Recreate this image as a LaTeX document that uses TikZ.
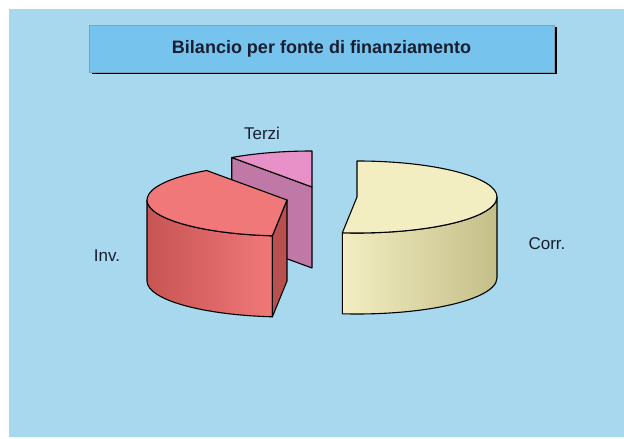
\documentclass[tikz,border=0pt]{standalone}
\usepackage{fontspec}
\setmainfont{Liberation Sans}
\usetikzlibrary{shadows}

\definecolor{bgblue}{RGB}{168,216,238}
\definecolor{boxblue}{RGB}{118,196,238}
\definecolor{boxedge}{RGB}{130,160,180}
\definecolor{txtnavy}{RGB}{24,30,48}
\definecolor{redtop}{RGB}{240,120,120}
\definecolor{redrim}{RGB}{200,84,84}
\definecolor{redside}{RGB}{184,80,80}
\definecolor{pinktop}{RGB}{232,144,200}
\definecolor{pinkside}{RGB}{192,120,166}
\definecolor{yeltop}{RGB}{243,238,194}
\definecolor{yelrim}{RGB}{196,190,136}

\begin{document}
\begin{tikzpicture}[x=1pt,y=1pt,
  slice/.style={draw=black,line width=1.1pt,line join=round},
  lbl/.style={text=txtnavy,font=\fontsize{17}{19}\selectfont},
  titlebox/.style={fill=boxblue,draw=boxedge,line width=0.8pt,
    minimum width=465pt,minimum height=47pt,inner sep=0pt,
    drop shadow={shadow xshift=2.5pt,shadow yshift=-2.5pt,fill=black,opacity=1}}]
\useasboundingbox (0,0) rectangle (624,439);
\fill[bgblue] (9,2) rectangle (624,430);

\node[titlebox,text=txtnavy,font=\fontsize{18}{20}\selectfont\bfseries] (title) at (321.5,390.5) {Bilancio per fonte di finanziamento};

% Terzi: 90 -> 125
\begin{scope}[shift={(312,252)}]
\filldraw[slice,fill=pinkside] (0,0) -- (125:140 and 36) -- ++(0,-81) -- (0,-81) -- cycle;
\filldraw[slice,fill=pinktop] (0,0) -- (90:140 and 36) arc[start angle=90,end angle=125,x radius=140,y radius=36] -- cycle;
\end{scope}

% Corr.: -96 -> 90
\begin{scope}[shift={(357,242)}]
\shadedraw[slice,left color=yeltop,right color=yelrim] (-96:140 and 36) arc[start angle=-96,end angle=0,x radius=140,y radius=36] -- ++(0,-81) arc[start angle=0,end angle=-96,x radius=140,y radius=36] -- cycle;
\filldraw[slice,fill=yeltop] (0,0) -- (90:140 and 36) arc[start angle=90,end angle=-96,x radius=140,y radius=36] -- cycle;
\end{scope}

% Inv.: 125 -> 264
\begin{scope}[shift={(287,239)}]
\shadedraw[slice,left color=redrim,right color=redtop] (180:140 and 36) arc[start angle=180,end angle=264,x radius=140,y radius=36] -- ++(0,-81) arc[start angle=264,end angle=180,x radius=140,y radius=36] -- cycle;
\filldraw[slice,fill=redside] (0,0) -- (264:140 and 36) -- ++(0,-81) -- (0,-81) -- cycle;
\filldraw[slice,fill=redtop] (0,0) -- (125:140 and 36) arc[start angle=125,end angle=264,x radius=140,y radius=36] -- cycle;
\end{scope}

\node[lbl] (terzi) at (262,306) {Terzi};
\node[lbl] (inv) at (107,183) {Inv.};
\node[lbl] (corr) at (547,195) {Corr.};
\end{tikzpicture}
\end{document}
